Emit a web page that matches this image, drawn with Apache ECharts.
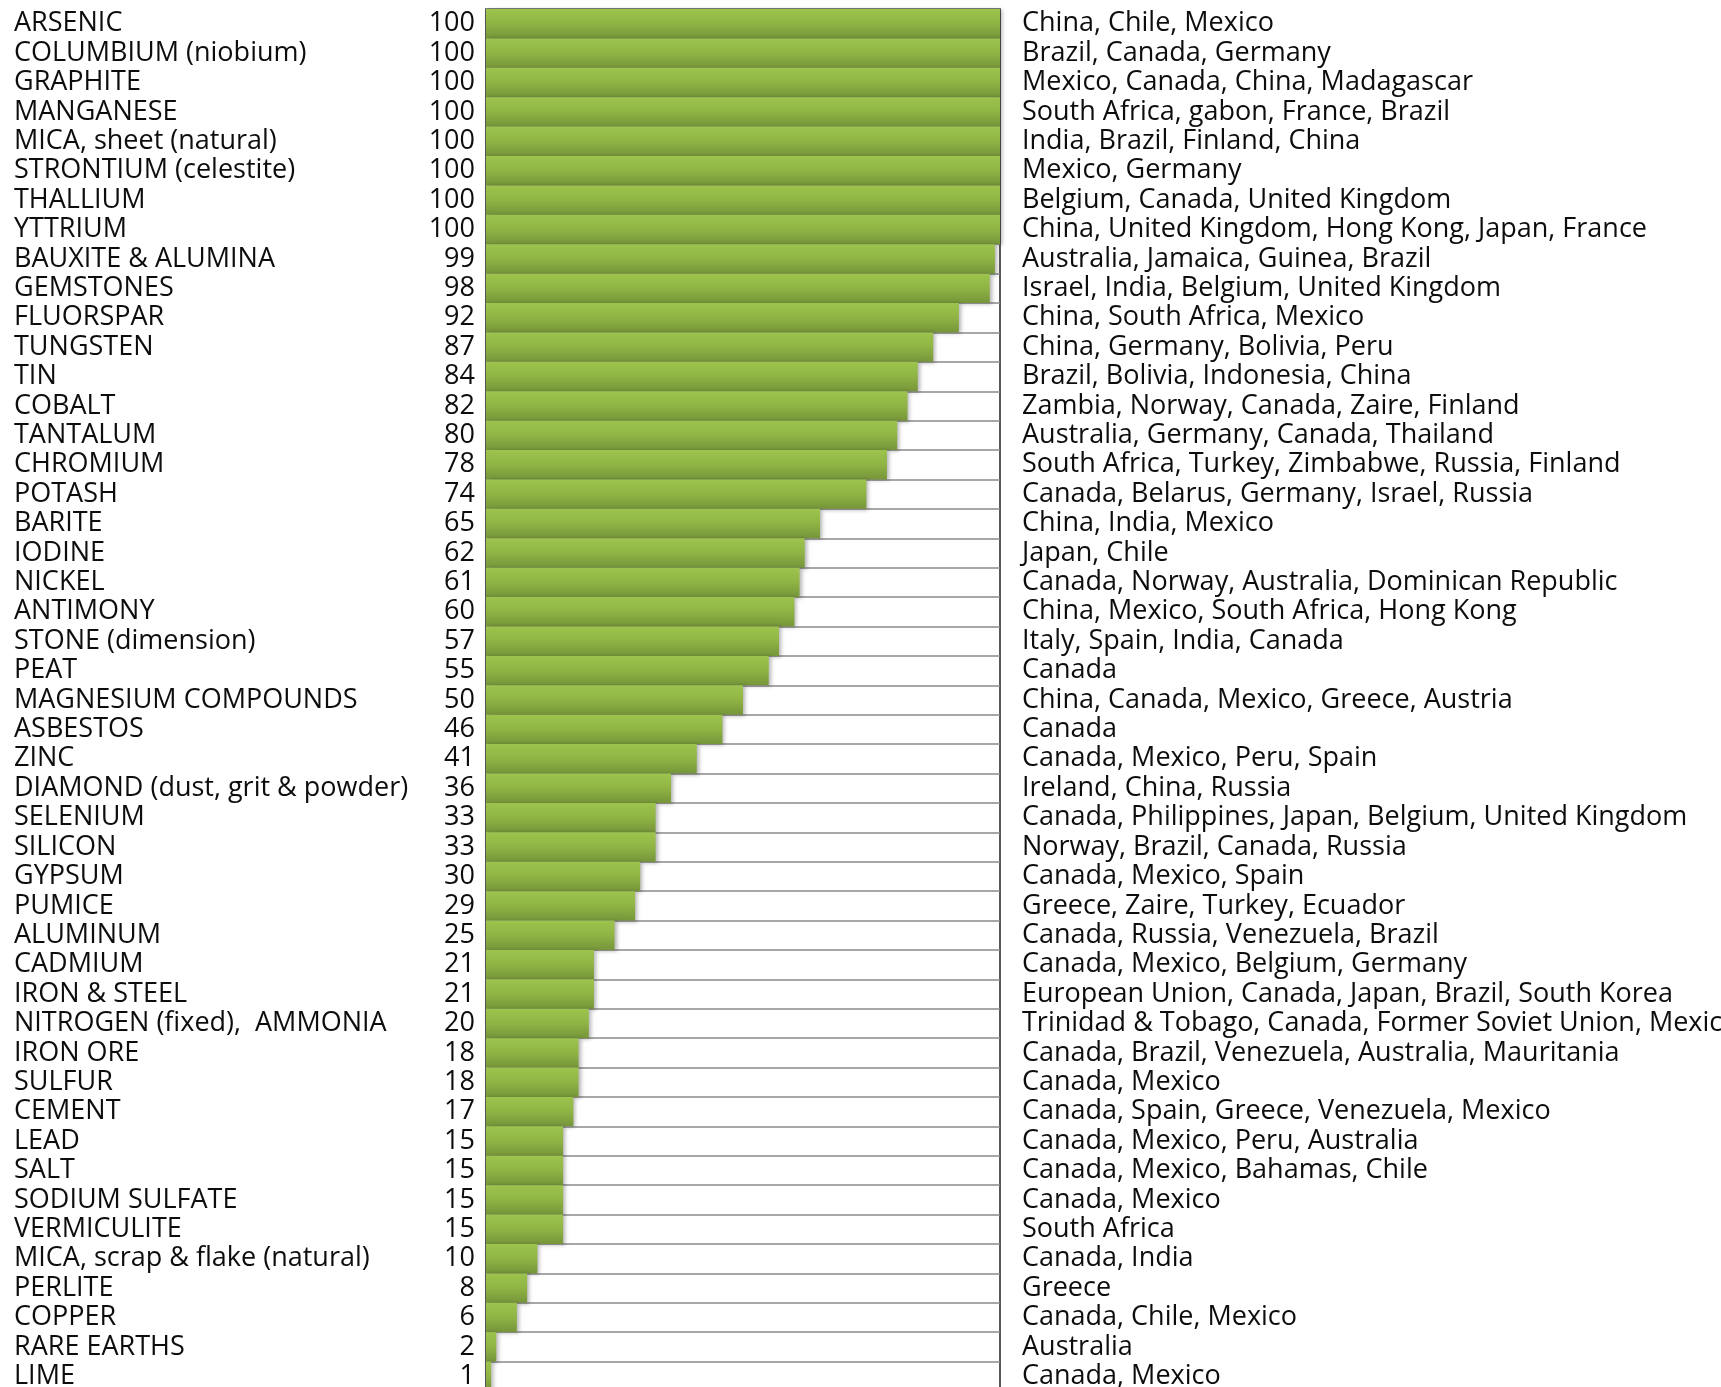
<!DOCTYPE html>
<html>
<head>
<meta charset="utf-8">
<title>Import reliance</title>
<script src="https://cdn.jsdelivr.net/npm/echarts@6/dist/echarts.min.js"></script>
<style>
  html, body { margin: 0; padding: 0; background: #fff; }
  #chart { width: 1721px; height: 1387px; }
</style>
</head>
<body>
<div id="chart"></div>
<script>
const minerals = [
  'ARSENIC', 'COLUMBIUM (niobium)', 'GRAPHITE', 'MANGANESE', 'MICA, sheet (natural)',
  'STRONTIUM (celestite)', 'THALLIUM', 'YTTRIUM', 'BAUXITE & ALUMINA', 'GEMSTONES',
  'FLUORSPAR', 'TUNGSTEN', 'TIN', 'COBALT', 'TANTALUM', 'CHROMIUM', 'POTASH', 'BARITE',
  'IODINE', 'NICKEL', 'ANTIMONY', 'STONE (dimension)', 'PEAT', 'MAGNESIUM COMPOUNDS',
  'ASBESTOS', 'ZINC', 'DIAMOND (dust, grit & powder)', 'SELENIUM', 'SILICON', 'GYPSUM',
  'PUMICE', 'ALUMINUM', 'CADMIUM', 'IRON & STEEL', 'NITROGEN (fixed),  AMMONIA',
  'IRON ORE', 'SULFUR', 'CEMENT', 'LEAD', 'SALT', 'SODIUM SULFATE', 'VERMICULITE',
  'MICA, scrap & flake (natural)', 'PERLITE', 'COPPER', 'RARE EARTHS', 'LIME'
]

const reliance = [
  100, 100, 100, 100, 100, 100, 100, 100, 99, 98,
  92, 87, 84, 82, 80, 78, 74, 65, 62, 61,
  60, 57, 55, 50, 46, 41, 36, 33, 33, 30,
  29, 25, 21, 21, 20, 18, 18, 17, 15, 15,
  15, 15, 10, 8, 6, 2, 1
]

const sources = [
  'China, Chile, Mexico',
  'Brazil, Canada, Germany',
  'Mexico, Canada, China, Madagascar',
  'South Africa, gabon, France, Brazil',
  'India, Brazil, Finland, China',
  'Mexico, Germany',
  'Belgium, Canada, United Kingdom',
  'China, United Kingdom, Hong Kong, Japan, France',
  'Australia, Jamaica, Guinea, Brazil',
  'Israel, India, Belgium, United Kingdom',
  'China, South Africa, Mexico',
  'China, Germany, Bolivia, Peru',
  'Brazil, Bolivia, Indonesia, China',
  'Zambia, Norway, Canada, Zaire, Finland',
  'Australia, Germany, Canada, Thailand',
  'South Africa, Turkey, Zimbabwe, Russia, Finland',
  'Canada, Belarus, Germany, Israel, Russia',
  'China, India, Mexico',
  'Japan, Chile',
  'Canada, Norway, Australia, Dominican Republic',
  'China, Mexico, South Africa, Hong Kong',
  'Italy, Spain, India, Canada',
  'Canada',
  'China, Canada, Mexico, Greece, Austria',
  'Canada',
  'Canada, Mexico, Peru, Spain',
  'Ireland, China, Russia',
  'Canada, Philippines, Japan, Belgium, United Kingdom',
  'Norway, Brazil, Canada, Russia',
  'Canada, Mexico, Spain',
  'Greece, Zaire, Turkey, Ecuador',
  'Canada, Russia, Venezuela, Brazil',
  'Canada, Mexico, Belgium, Germany',
  'European Union, Canada, Japan, Brazil, South Korea',
  'Trinidad & Tobago, Canada, Former Soviet Union, Mexico',
  'Canada, Brazil, Venezuela, Australia, Mauritania',
  'Canada, Mexico',
  'Canada, Spain, Greece, Venezuela, Mexico',
  'Canada, Mexico, Peru, Australia',
  'Canada, Mexico, Bahamas, Chile',
  'Canada, Mexico',
  'South Africa',
  'Canada, India',
  'Greece',
  'Canada, Chile, Mexico',
  'Australia',
  'Canada, Mexico'
]

const chart = echarts.init(document.getElementById('chart'))

const labelFont = { fontFamily: 'Open Sans', fontSize: 27, color: '#0d0d0d' }

chart.setOption({
  animation: false,
  grid: {
    left: 486, top: 9, width: 514, height: 1382,
    outerBoundsMode: 'none',
    show: true, borderColor: '#222', borderWidth: 1.5, backgroundColor: 'transparent'
  },
  xAxis: {
    type: 'value', min: 0, max: 100, show: false
  },
  yAxis: [
    {
      type: 'category', inverse: true, data: minerals, position: 'left',
      axisLine: { show: false }, axisTick: { show: false },
      splitLine: { show: true, lineStyle: { color: '#8a8a8a', width: 1.5 } },
      axisLabel: { ...labelFont, align: 'left', margin: 472, interval: 0 }
    },
    {
      type: 'category', inverse: true, data: minerals, position: 'left',
      axisLine: { show: false }, axisTick: { show: false }, splitLine: { show: false },
      axisLabel: { ...labelFont, margin: 11, interval: 0, formatter: (v, i) => String(reliance[i]) }
    },
    {
      type: 'category', inverse: true, data: minerals, position: 'right',
      axisLine: { show: false }, axisTick: { show: false }, splitLine: { show: false },
      axisLabel: { ...labelFont, align: 'left', margin: 22, interval: 0, formatter: (v, i) => sources[i] }
    }
  ],
  series: [{
    type: 'bar',
    yAxisIndex: 0,
    data: reliance,
    barCategoryGap: 0,
    itemStyle: {
      color: new echarts.graphic.LinearGradient(0, 0, 0, 1, [
        { offset: 0, color: '#9dc44d' },
        { offset: 0.5, color: '#8fb444' },
        { offset: 1, color: '#76953a' }
      ]),
      shadowColor: 'rgba(0,0,0,0.3)',
      shadowBlur: 4,
      shadowOffsetX: 2,
      shadowOffsetY: 1
    }
  }]
})
</script>
</body>
</html>
